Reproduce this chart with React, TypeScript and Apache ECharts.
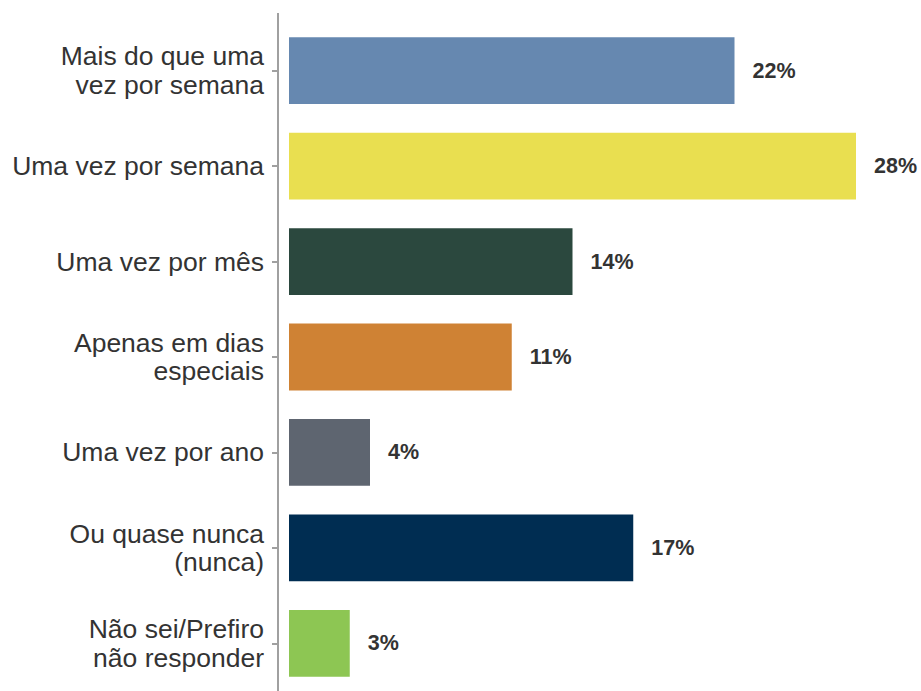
import React, { useEffect, useRef } from "react";
import * as echarts from "echarts";

const categories = [
  "Mais do que uma\nvez por semana",
  "Uma vez por semana",
  "Uma vez por mês",
  "Apenas em dias\nespeciais",
  "Uma vez por ano",
  "Ou quase nunca\n(nunca)",
  "Não sei/Prefiro\nnão responder",
];
const values = [22, 28, 14, 11, 4, 17, 3];
const colors = ["#6688B0", "#E9DF50", "#2B483E", "#CF8234", "#5E6570", "#002D52", "#8DC653"];

const FONT = "'Liberation Sans', Arial, sans-serif";

export default function App() {
  const ref = useRef<HTMLDivElement>(null);
  useEffect(() => {
    if (!ref.current) return;
    const chart = echarts.init(ref.current, null, { renderer: "svg" });
    chart.setOption({
      animation: false,
      grid: { left: 289, right: 24.5, top: 23, bottom: 0, containLabel: false },
      xAxis: {
        type: "value",
        min: 0,
        max: 30,
        show: false,
      },
      yAxis: {
        type: "category",
        data: categories,
        inverse: true,
        offset: 11,
        axisLine: { show: true, onZero: false, lineStyle: { color: "#A0A0A0", width: 2 } },
        axisTick: { show: true, alignWithLabel: true, length: 6, lineStyle: { color: "#A0A0A0", width: 2 } },
        axisLabel: {
          margin: 14,
          color: "#333333",
          fontSize: 26.5,
          lineHeight: 28.5,
          fontFamily: FONT,
          align: "right",
        },
        splitLine: { show: false },
      },
      graphic: [
        {
          type: "line",
          shape: { x1: 278, y1: 13, x2: 278, y2: 24 },
          style: { stroke: "#A0A0A0", lineWidth: 2 },
        },
      ],
      series: [
        {
          type: "bar",
          barCategoryGap: "30%",
          data: values.map((v, i) => ({ value: v, itemStyle: { color: colors[i] } })),
          label: {
            show: true,
            position: "right",
            distance: 18,
            formatter: "{c}%",
            color: "#333333",
            fontSize: 21.5,
            fontWeight: "bold",
            fontFamily: FONT,
          },
        },
      ],
    });
    return () => chart.dispose();
  }, []);
  return (
    <div
      ref={ref}
      style={{ position: "fixed", left: 0, top: 0, width: 921, height: 691, background: "#ffffff" }}
    />
  );
}
